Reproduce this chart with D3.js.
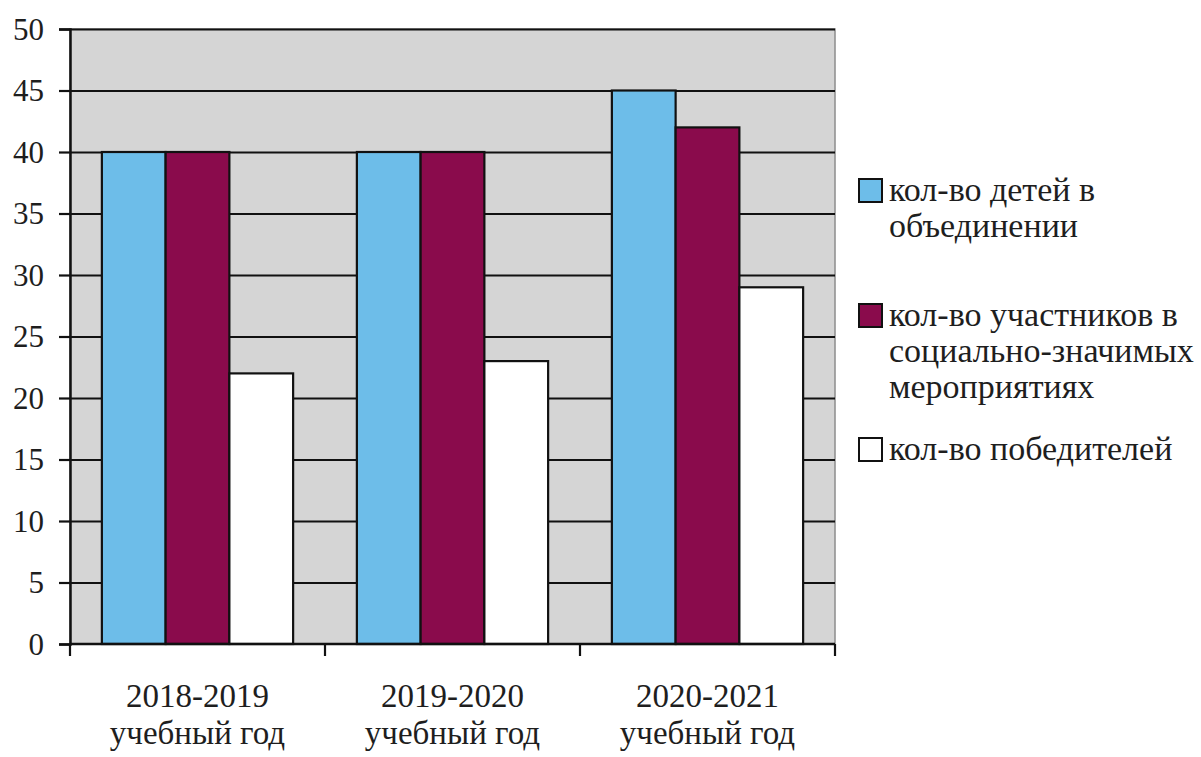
<!DOCTYPE html>
<html>
<head>
<meta charset="utf-8">
<script src="https://cdn.jsdelivr.net/npm/d3@7"></script>
<style>body { margin: 0; background: #fff; }</style>
</head>
<body>
<svg id="chart" width="1201" height="757"></svg>
<script>
const categories = ["2018-2019", "2019-2020", "2020-2021"];
const categorySub = "учебный год";
const seriesNames = [
  ["кол-во детей в", "объединении"],
  ["кол-во участников в", "социально-значимых", "мероприятиях"],
  ["кол-во победителей"]
];
const children = [40, 40, 45];
const participants = [40, 40, 42];
const winners = [22, 23, 29];
const yTicks = [0, 5, 10, 15, 20, 25, 30, 35, 40, 45, 50];

const colors = ["#6dbde9", "#8a0b4c", "#ffffff"];
const seriesValues = [children, participants, winners];
const serifFont = "'Liberation Serif', monospace";
const ink = "#1e1e1e";

const margin = { top: 29, left: 70 };
const innerWidth = 765, innerHeight = 615;

const svg = d3.select("#chart");
const g = svg.append("g").attr("transform", `translate(${margin.left}, ${margin.top})`);

const x0 = d3.scaleBand().domain(categories).range([0, innerWidth]).padding(0);
const x1 = d3.scaleBand().domain(d3.range(seriesValues.length))
  .range([0, x0.bandwidth()]).paddingInner(0).paddingOuter(0.5);
const y = d3.scaleLinear().domain([0, 50]).range([innerHeight, 0]);

// plot background
g.append("rect")
  .attr("width", innerWidth).attr("height", innerHeight)
  .attr("fill", "#d5d5d5").attr("stroke", "#8c8c8c").attr("stroke-width", 1.5);

// gridlines
g.append("g")
  .call(d3.axisLeft(y).tickValues(yTicks.filter((t) => t > 0)).tickSize(-innerWidth).tickFormat(""))
  .call((s) => s.select(".domain").remove())
  .call((s) => s.selectAll("line").attr("stroke", "#111").attr("stroke-width", 2.2));

// bars
const groups = g.selectAll(".cat")
  .data(categories)
  .join("g")
  .attr("transform", (c) => `translate(${x0(c)}, 0)`);

groups.selectAll("rect")
  .data((c, i) => seriesValues.map((vals, s) => ({ s: s, v: vals[i] })))
  .join("rect")
  .attr("x", (d) => x1(d.s))
  .attr("y", (d) => y(d.v))
  .attr("width", x1.bandwidth())
  .attr("height", (d) => innerHeight - y(d.v))
  .attr("fill", (d) => colors[d.s])
  .attr("stroke", "#111")
  .attr("stroke-width", 2.2);

// y axis: line and ticks from d3, labels as plain texts
g.append("g")
  .call(d3.axisLeft(y).tickValues(yTicks).tickSize(11).tickFormat(""))
  .call((s) => s.select(".domain").attr("stroke", "#111").attr("stroke-width", 2.5))
  .call((s) => s.selectAll("line").attr("stroke", "#111").attr("stroke-width", 2.2));

svg.selectAll(".ylab")
  .data(yTicks)
  .join("text")
  .attr("class", "ylab")
  .attr("x", margin.left - 26)
  .attr("y", (d) => margin.top + y(d) + 10.5)
  .attr("text-anchor", "end")
  .attr("font-size", 31)
  .attr("fill", ink)
  .style("font-family", serifFont)
  .text((d) => d);

// x axis baseline and ticks at band edges
const xAxis = g.append("g").attr("transform", `translate(0, ${innerHeight})`);
xAxis.append("line").attr("x1", 0).attr("x2", innerWidth)
  .attr("stroke", "#111").attr("stroke-width", 2.5);
const edges = categories.map((c) => x0(c)).concat([x0(categories[categories.length - 1]) + x0.bandwidth()]);
xAxis.selectAll(".edge")
  .data(edges)
  .join("line")
  .attr("x1", (d) => d).attr("x2", (d) => d)
  .attr("y1", 0).attr("y2", 12)
  .attr("stroke", "#111").attr("stroke-width", 2.2);

const catLines = categories.flatMap((c) => [
  { c: c, text: c, dy: 63 },
  { c: c, text: categorySub, dy: 100 }
]);
svg.selectAll(".xlab")
  .data(catLines)
  .join("text")
  .attr("class", "xlab")
  .attr("x", (d) => margin.left + x0(d.c) + x0.bandwidth() / 2)
  .attr("y", (d) => margin.top + innerHeight + d.dy)
  .attr("text-anchor", "middle")
  .attr("font-size", 33)
  .attr("fill", ink)
  .style("font-family", serifFont)
  .text((d) => d.text);

// legend
const legendTops = [179, 304, 438];
const legendLines = seriesNames.flatMap((lines, i) =>
  lines.map((line, j) => ({ i: i, j: j, text: line })));

svg.selectAll(".key")
  .data(colors)
  .join("rect")
  .attr("class", "key")
  .attr("x", 859).attr("y", (d, i) => legendTops[i])
  .attr("width", 23).attr("height", 23)
  .attr("fill", (d) => d).attr("stroke", "#111").attr("stroke-width", 2);

svg.selectAll(".leg")
  .data(legendLines)
  .join("text")
  .attr("class", "leg")
  .attr("x", 889)
  .attr("y", (d) => legendTops[d.i] + 22 + d.j * 36)
  .attr("font-size", 34)
  .attr("fill", ink)
  .style("font-family", serifFont)
  .text((d) => d.text);
</script>
</body>
</html>
